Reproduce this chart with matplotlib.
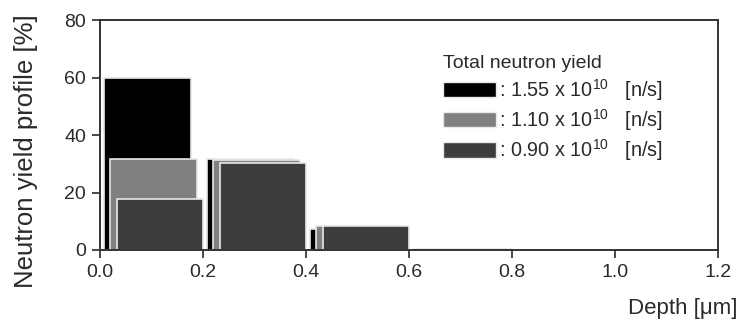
import matplotlib
matplotlib.use("Agg")
from matplotlib import pyplot as plt
from matplotlib.patches import Patch
import numpy as np

# data
bin_start = [0.0, 0.2, 0.4, 0.6]
yield_155 = [60.0, 31.5, 7.3, 0.5]
yield_110 = [31.6, 31.3, 8.2, 0.4]
yield_090 = [17.7, 30.4, 8.5, 0.3]
labels = [r": 1.55 x 10$^{10}$   [n/s]",
          r": 1.10 x 10$^{10}$   [n/s]",
          r": 0.90 x 10$^{10}$   [n/s]"]

colors = ["#000000", "#808080", "#3d3d3d"]
offsets = [0.008, 0.020, 0.032]
width = 0.168
txt = '#2a2a2a'

plt.rcParams['font.family'] = ['Liberation Sans', 'DejaVu Sans']
plt.rcParams['mathtext.fontset'] = 'custom'
plt.rcParams['mathtext.rm'] = 'Liberation Sans'
plt.rcParams['mathtext.it'] = 'Liberation Sans:italic'

fig = plt.figure(figsize=(7.42, 3.24), dpi=100)
ax = fig.add_axes([0.1348, 0.2284, 0.833, 0.7096])

x = np.array(bin_start)
for vals, col, off in zip([yield_155, yield_110, yield_090], colors, offsets):
    ax.bar(x + off, vals, width=width, align='edge', color=col,
           edgecolor='#e8e8e8', linewidth=1.2)

ax.set_xlim(0, 1.2)
ax.set_ylim(0, 80)
ax.set_xticks([0.0, 0.2, 0.4, 0.6, 0.8, 1.0, 1.2])
ax.set_xticklabels(["0.0", "0.2", "0.4", "0.6", "0.8", "1.0", "1.2"])
ax.set_yticks([0, 20, 40, 60, 80])
ax.tick_params(direction='out', length=6, width=1.2, labelsize=14, colors=txt, pad=4)
for s in ax.spines.values():
    s.set_linewidth(1.4)
    s.set_color('#333333')

ax.set_ylabel("Neutron yield profile [%]", fontsize=18.5, color=txt)
ax.yaxis.set_label_coords(-0.1, 0.43)
ax.set_xlabel("Depth [μm]", fontsize=16, color=txt)
ax.xaxis.set_label_coords(1.031, -0.21)
ax.xaxis.label.set_horizontalalignment('right')

handles = [Patch(facecolor=c, edgecolor='#e8e8e8') for c in colors]
leg = ax.legend(handles, labels, title="Total neutron yield", loc='upper left',
                bbox_to_anchor=(0.555, 0.847), frameon=False, fontsize=14.3,
                title_fontsize=14, handlelength=2.65, handleheight=0.8,
                handletextpad=0.15, labelspacing=0.22, alignment='left',
                borderaxespad=0, borderpad=0)
for t in leg.get_texts():
    t.set_color(txt)
leg.get_title().set_color(txt)

fig.savefig("out.png", dpi=100)
